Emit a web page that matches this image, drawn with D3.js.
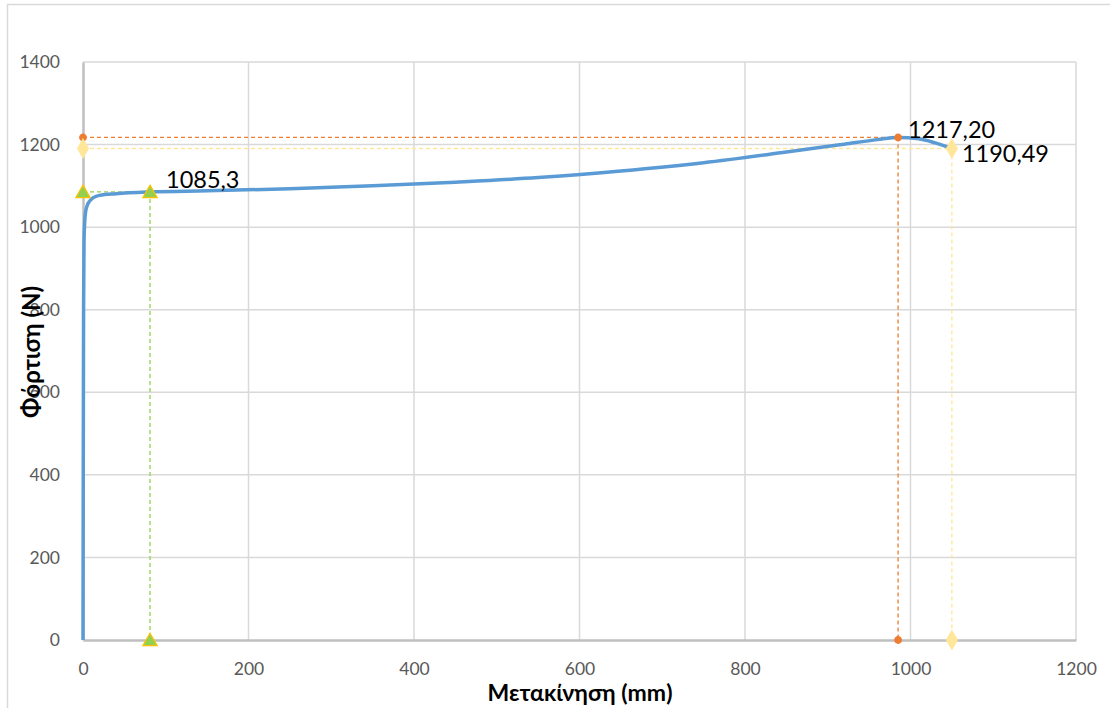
<!DOCTYPE html>
<html>
<head>
<meta charset="utf-8">
<script src="https://cdn.jsdelivr.net/npm/d3@7"></script>
<style>
  html, body { margin: 0; padding: 0; background: #fff; }
  svg { display: block; font-family: Lato, "Open Sans", sans-serif; }
</style>
</head>
<body>
<svg id="chart" width="1110" height="708"></svg>
<script>
// Load–displacement curve
const displacement = [0, 0.3, 0.7, 1.2, 2, 3, 5, 8, 12, 20, 40, 81, 150, 250, 350, 450, 550, 650, 750, 850, 920, 960, 985, 1010, 1030, 1050];
const load = [0, 400, 800, 960, 1010, 1035, 1052, 1063, 1071, 1077, 1081, 1085.3, 1088, 1093, 1100, 1109, 1120, 1136, 1156, 1182, 1201, 1212, 1217.2, 1214, 1204, 1190.49];

// Marked points: yield, maximum, failure
const markNames = ["yield", "max", "failure"];
const markX = [81, 985, 1050];
const markY = [1085.3, 1217.2, 1190.49];
const markLabels = ["1085,3", "1217,20", "1190,49"];

const xTicks = [0, 200, 400, 600, 800, 1000, 1200];
const yTicks = [0, 200, 400, 600, 800, 1000, 1200, 1400];
const xTitle = "Μετακίνηση (mm)";
const yTitle = "Φόρτιση (N)";

const svg = d3.select("#chart");
const W = 1110, H = 708;
const m = { left: 83, right: 1076, top: 62, bottom: 640 };

const x = d3.scaleLinear().domain([0, 1200]).range([m.left, m.right]);
const y = d3.scaleLinear().domain([0, 1400]).range([m.bottom, m.top]);

// outer frame
svg.append("rect")
  .attr("x", 7.5).attr("y", 4.5)
  .attr("width", W + 10).attr("height", H + 10)
  .attr("fill", "none").attr("stroke", "#d9d9d9").attr("stroke-width", 1.5);

// gridlines
svg.append("g").selectAll("line").data(yTicks.filter(d => d > 0)).join("line")
  .attr("x1", m.left).attr("x2", m.right)
  .attr("y1", d => y(d)).attr("y2", d => y(d))
  .attr("stroke", "#d9d9d9").attr("stroke-width", 1.5);
svg.append("g").selectAll("line").data(xTicks.filter(d => d > 0)).join("line")
  .attr("y1", m.top).attr("y2", m.bottom)
  .attr("x1", d => x(d)).attr("x2", d => x(d))
  .attr("stroke", "#d9d9d9").attr("stroke-width", 1.5);

// axes
const xAxis = svg.append("g").attr("transform", `translate(0,${m.bottom})`)
  .call(d3.axisBottom(x).tickValues(xTicks).tickSize(0).tickPadding(29).tickFormat(d3.format("d")));
const yAxis = svg.append("g").attr("transform", `translate(${m.left},0)`)
  .call(d3.axisLeft(y).tickValues(yTicks).tickSize(0).tickPadding(23).tickFormat(d3.format("d")));
[xAxis, yAxis].forEach(g => {
  g.select(".domain").attr("stroke", "#bfbfbf").attr("stroke-width", 2.5);
  g.selectAll("text").attr("fill", "#595959").attr("font-size", 17.5).attr("font-family", "Lato, sans-serif");
});
xAxis.selectAll("text").attr("dy", "0.35em");

// reference guides for the marked points
const colors = {
  yield: { line: "#92D050", fill: "#92D050", stroke: "#FFC000" },
  max: { line: "#ED7D31", fill: "#ED7D31", stroke: "#ED7D31" },
  failure: { line: "#FFE699", fill: "#FFE699", stroke: "#FFE699" }
};
const guides = svg.append("g");
markNames.forEach((name, i) => {
  const c = colors[name];
  guides.append("line")
    .attr("x1", x(0)).attr("x2", x(markX[i]))
    .attr("y1", y(markY[i])).attr("y2", y(markY[i]))
    .attr("stroke", c.line).attr("stroke-width", 1.3).attr("stroke-dasharray", "4,3");
  guides.append("line")
    .attr("x1", x(markX[i])).attr("x2", x(markX[i]))
    .attr("y1", y(markY[i])).attr("y2", y(0))
    .attr("stroke", c.line).attr("stroke-width", 1.3).attr("stroke-dasharray", "4,3");
});

// curve
const line = d3.line().x((d, i) => x(displacement[i])).y(d => y(d)).curve(d3.curveMonotoneX);
svg.append("path")
  .datum(load)
  .attr("d", line)
  .attr("fill", "none").attr("stroke", "#5B9BD5").attr("stroke-width", 3.5)
  .attr("stroke-linejoin", "round");

// markers at the point and on both axes
const symbols = { yield: d3.symbolTriangle, max: d3.symbolCircle, failure: d3.symbolDiamond };
const sizes = { yield: 90, max: 34, failure: 100 };
const markers = svg.append("g");
markNames.forEach((name, i) => {
  const c = colors[name];
  const pts = [[markX[i], markY[i]], [0, markY[i]], [markX[i], 0]];
  pts.forEach(p => {
    markers.append("path")
      .attr("d", d3.symbol().type(symbols[name]).size(sizes[name])())
      .attr("transform", `translate(${x(p[0])},${y(p[1]) + (name === "yield" ? 1.5 : 0)})`)
      .attr("fill", c.fill).attr("stroke", c.stroke).attr("stroke-width", 1.2);
  });
});

// value labels
const labelOffsets = [[16, -12], [10, -8], [10, 5]];
svg.append("g").selectAll("text").data(markLabels).join("text")
  .attr("x", (d, i) => x(markX[i]) + labelOffsets[i][0])
  .attr("y", (d, i) => y(markY[i]) + labelOffsets[i][1])
  .attr("dy", "0.35em")
  .attr("font-size", 23.5).attr("fill", "#000")
  .text(d => d);

// axis titles
svg.append("text")
  .attr("x", 580).attr("y", 693)
  .attr("dy", "0.35em").attr("text-anchor", "middle")
  .attr("font-size", 23).attr("font-weight", "bold").attr("fill", "#000")
  .text(xTitle);
svg.append("text")
  .attr("transform", "translate(32,352) rotate(-90)")
  .attr("dy", "0.35em").attr("text-anchor", "middle")
  .attr("font-size", 24).attr("font-weight", "bold").attr("fill", "#000")
  .text(yTitle);
</script>
</body>
</html>
